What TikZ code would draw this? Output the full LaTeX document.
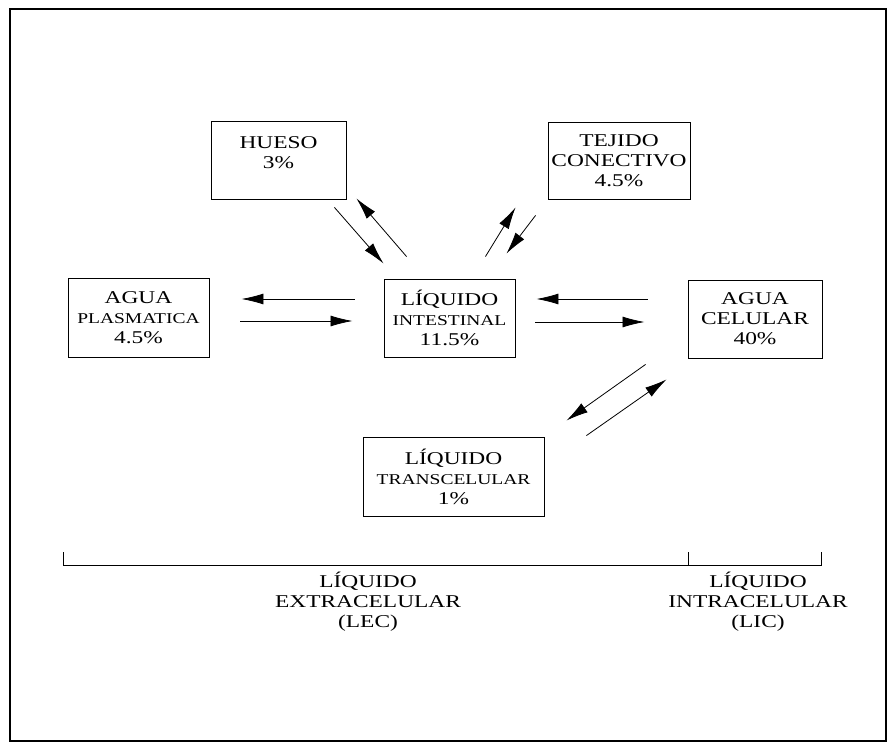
\documentclass[tikz,border=0pt]{standalone}
\usepackage{fontspec}
\setmainfont{Liberation Serif}[FakeStretch=1.3]
\usetikzlibrary{arrows.meta,positioning}
\tikzset{caja/.style={draw, line width=0.9pt, align=center, inner sep=0pt,
                      font=\fontsize{18}{20}\selectfont},
         rotulo/.style={align=center, inner sep=0pt,
                        font=\fontsize{18}{20}\selectfont},
         flujo/.style={-{Latex[length=22pt,width=11pt]}, line width=0.8pt}}
\newcommand{\chico}[1]{{\fontsize{15}{20}\selectfont #1}}

\begin{document}
\begin{tikzpicture}[x=1pt,y=-1pt]
   \useasboundingbox (0,0) rectangle (888,743);
   \draw[line width=1.4pt] (10,9) rectangle (886,741);
   % compartimentos
   \node[caja, minimum width=135pt, minimum height=78pt] (hueso) at (278.5,160)
     {HUESO\\3\%\\[-6pt]\phantom{3}};
   \node[caja, minimum width=142pt, minimum height=77pt] (tejido) at (619,160.5)
     {TEJIDO\\CONECTIVO\\4.5\%};
   \node[caja, minimum width=141pt, minimum height=79pt] (plasma) at (138.5,317.5)
     {AGUA\\\chico{PLASMATICA}\\4.5\%};
   \node[caja, minimum width=131pt, minimum height=78pt] (inter) at (449.5,318)
     {LÍQUIDO\\\chico{INTESTINAL}\\11.5\%};
   \node[caja, minimum width=134pt, minimum height=78pt] (celula) at (755,319)
     {AGUA\\CELULAR\\40\%};
   \node[caja, minimum width=181pt, minimum height=79pt] (trans) at (453.5,476.5)
     {LÍQUIDO\\\chico{TRANSCELULAR}\\1\%};
   % intercambios
   \draw[flujo] ([shift={(-12,8)}]hueso.south east) -- ([shift={(0,-15)}]inter.north west);
   \draw[flujo] ([shift={(23,-22)}]inter.north west) -- ([shift={(10,-1)}]hueso.south east);
   \draw[flujo] ([shift={(-30,-22)}]inter.north east) -- ([shift={(-32,8)}]tejido.south west);
   \draw[flujo] ([shift={(-12,16)}]tejido.south west) -- ([shift={(-9,-25)}]inter.north east);
   \draw[flujo] ([shift={(-29,-19)}]inter.west) -- ([shift={(32,-18.5)}]plasma.east);
   \draw[flujo] ([shift={(31,3.5)}]plasma.east) -- ([shift={(-31,3)}]inter.west);
   \draw[flujo] ([shift={(-40,-20)}]celula.west) -- ([shift={(21,-19)}]inter.east);
   \draw[flujo] ([shift={(20,4)}]inter.east) -- ([shift={(-43,3)}]celula.west);
   \draw[flujo] ([shift={(-42,6)}]celula.south west) -- ([shift={(22,-16)}]trans.north east);
   \draw[flujo] ([shift={(42,-1)}]trans.north east) -- ([shift={(-21,21)}]celula.south west);
   % llave inferior
   \draw[line width=0.8pt] (63,552) -- (63,565) -- (821,565) -- (821,552);
   \draw[line width=0.8pt] (688,552) -- (688,565);
   \node[rotulo] (lec) at (368,602) {LÍQUIDO\\EXTRACELULAR\\(LEC)};
   \node[rotulo] (lic) at (758,602) {LÍQUIDO\\INTRACELULAR\\(LIC)};
\end{tikzpicture}
\end{document}
